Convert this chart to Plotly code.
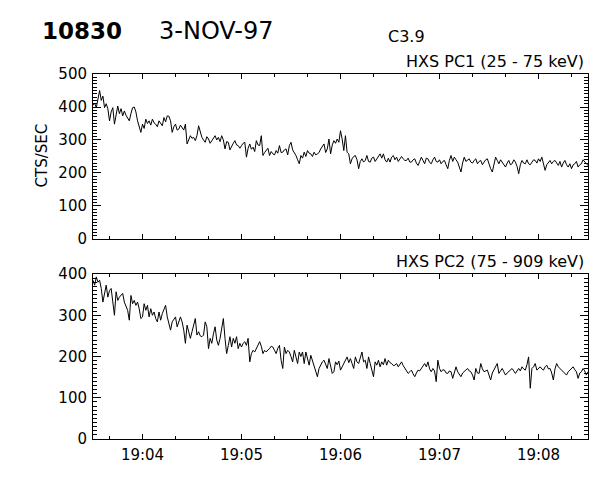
import pandas as pd
import plotly.graph_objects as go

# HXS count rates, 1 s samples starting 19:03:30 UT on 3-Nov-97
start_time = "1997-11-03 19:03:30"
cadence_s = 1

pc1_counts = [
    405, 412, 398, 430, 450, 420, 433, 398, 410, 395,
    358, 385, 398, 348, 375, 403, 380, 395, 373, 388,
    375, 368, 358, 380, 398, 400, 385, 358, 340, 323,
    348, 335, 363, 350, 358, 345, 363, 352, 348, 340,
    358, 350, 343, 368, 355, 373, 372, 358, 323, 340,
    348, 330, 333, 345, 338, 330, 348, 288, 300, 313,
    305, 308, 298, 313, 343, 325, 308, 300, 293, 310,
    303, 290, 298, 305, 313, 300, 308, 295, 313, 300,
    273, 295, 293, 270, 283, 290, 298, 285, 283, 275,
    283, 290, 293, 248, 275, 288, 272, 278, 265, 298,
    285, 283, 313, 253, 262, 268, 275, 253, 265, 258,
    255, 268, 260, 283, 262, 263, 270, 273, 255, 283,
    293, 270, 263, 253, 240, 228, 253, 245, 263, 250,
    268, 260, 258, 250, 263, 255, 258, 262, 273, 280,
    288, 262, 273, 303, 258, 285, 298, 290, 303, 293,
    328, 303, 268, 313, 263, 258, 228, 243, 250, 253,
    240, 213, 235, 243, 233, 238, 253, 235, 233, 245,
    248, 235, 243, 250, 258, 245, 258, 240, 233, 245,
    233, 248, 253, 240, 248, 235, 243, 250, 243, 238,
    238, 245, 233, 233, 240, 243, 230, 223, 235, 248,
    238, 228, 245, 243, 232, 228, 240, 248, 235, 233,
    240, 228, 235, 238, 225, 213, 238, 253, 235, 248,
    240, 233, 218, 203, 230, 248, 235, 238, 243, 233,
    230, 238, 243, 228, 235, 238, 225, 233, 240, 243,
    225, 213, 203, 230, 248, 238, 228, 240, 233, 225,
    218, 230, 238, 225, 228, 240, 233, 220, 198, 225,
    238, 230, 228, 240, 228, 225, 233, 240, 238, 230,
    243, 235, 248, 228, 208, 225, 233, 238, 228, 235,
    238, 230, 223, 235, 218, 230, 238, 225, 218, 228,
    213, 225, 228, 235, 218, 225, 228, 240, 233, 228,
    223,
]

pc2_counts = [
    385, 373, 393, 380, 385, 365, 332, 357, 373, 344,
    360, 365, 332, 300, 357, 336, 344, 350, 353, 332,
    324, 312, 288, 348, 328, 336, 324, 332, 316, 292,
    296, 328, 312, 324, 296, 316, 300, 308, 292, 284,
    308, 288, 304, 316, 324, 296, 280, 264, 284, 290,
    296, 272, 285, 296, 284, 264, 232, 276, 260, 244,
    260, 275, 292, 252, 260, 250, 248, 252, 284, 272,
    219, 244, 232, 255, 272, 240, 227, 244, 265, 292,
    244, 207, 227, 248, 223, 244, 232, 248, 219, 232,
    223, 232, 236, 227, 244, 187, 207, 215, 211, 220,
    227, 236, 225, 207, 215, 211, 216, 219, 225, 223,
    215, 207, 220, 227, 191, 171, 223, 207, 215, 211,
    200, 187, 215, 200, 183, 211, 200, 211, 183, 211,
    195, 179, 203, 190, 175, 163, 151, 171, 180, 187,
    191, 180, 171, 195, 175, 159, 163, 187, 180, 189,
    167, 175, 179, 190, 199, 185, 195, 183, 171, 199,
    187, 183, 195, 211, 187, 191, 171, 199, 183, 170,
    151, 187, 179, 191, 175, 187, 180, 195, 179, 191,
    185, 183, 178, 179, 183, 175, 180, 187, 178, 171,
    165, 159, 163, 167, 158, 151, 160, 167, 165, 171,
    175, 183, 175, 187, 170, 163, 171, 165, 139, 191,
    171, 163, 168, 167, 160, 159, 165, 163, 147, 160,
    175, 163, 158, 151, 160, 163, 168, 171, 165, 163,
    155, 143, 171, 160, 159, 183, 170, 163, 165, 167,
    155, 143, 160, 167, 175, 183, 159, 165, 171, 163,
    155, 160, 163, 168, 171, 165, 159, 165, 171, 165,
    175, 170, 167, 180, 199, 123, 171, 175, 183, 167,
    171, 175, 170, 167, 175, 179, 170, 171, 160, 143,
    170, 183, 175, 171, 167, 163, 160, 155, 163, 167,
    170, 175, 168, 163, 147, 160, 163, 171, 165, 155,
    163,
]

times = pd.date_range(start_time, periods=len(pc1_counts), freq=f"{cadence_s}s")

FONT = "DejaVu Sans"

fig = go.Figure()
fig.add_trace(go.Scatter(x=times, y=pc1_counts, mode="lines",
                         line=dict(color="black", width=1),
                         xaxis="x", yaxis="y", showlegend=False))
fig.add_trace(go.Scatter(x=times, y=pc2_counts, mode="lines",
                         line=dict(color="black", width=1),
                         xaxis="x2", yaxis="y2", showlegend=False))

x_common = dict(
    type="date",
    range=["1997-11-03 19:03:30", "1997-11-03 19:08:30"],
    tick0="1997-11-03 19:04:00", dtick=60000, tickformat="%H:%M",
    ticks="inside", ticklen=5, tickcolor="black",
    minor=dict(ticks="inside", ticklen=3, dtick=20000, tickcolor="black"),
    showline=True, linecolor="black", linewidth=1, mirror="allticks",
    showgrid=False, zeroline=False, ticklabelstandoff=2,
    tickfont=dict(family=FONT, size=15, color="black"),
)
y_common = dict(
    ticks="inside", ticklen=8, tickcolor="black",
    minor=dict(ticks="inside", ticklen=4, dtick=10, tickcolor="black"),
    showline=True, linecolor="black", linewidth=1, mirror="allticks",
    showgrid=False, zeroline=False, ticklabelstandoff=2,
    tickfont=dict(family=FONT, size=15, color="black"),
)

# page body adds an 8 px offset, so the figure is 8 px smaller than the window
fig.update_layout(
    width=592, height=472,
    margin=dict(l=85, r=12, t=66, b=41),
    paper_bgcolor="white", plot_bgcolor="white",
    font=dict(family=FONT, color="black"),
    xaxis=dict(x_common, domain=[0, 1], anchor="y", showticklabels=False),
    yaxis=dict(y_common, domain=[0.548, 1], anchor="x", range=[0, 500], dtick=100),
    xaxis2=dict(x_common, domain=[0, 1], anchor="y2"),
    yaxis2=dict(y_common, domain=[0, 0.452], anchor="x2", range=[0, 400], dtick=100),
    annotations=[
        dict(text="10830", x=-0.107, y=1.118, xref="paper", yref="paper",
             xanchor="left", yanchor="middle", showarrow=False,
             font=dict(family=FONT, size=23, color="black", weight="bold")),
        dict(text="3-NOV-97", x=0.129, y=1.118, xref="paper", yref="paper",
             xanchor="left", yanchor="middle", showarrow=False,
             font=dict(family=FONT, size=24, color="black")),
        dict(text="C3.9", x=0.592, y=1.104, xref="paper", yref="paper",
             xanchor="left", yanchor="middle", showarrow=False,
             font=dict(family=FONT, size=16, color="black")),
        dict(text="HXS PC1 (25 - 75 keV)", x=0.996, y=1.003, xref="paper", yref="paper",
             xanchor="right", yanchor="bottom", showarrow=False,
             font=dict(family=FONT, size=16, color="black")),
        dict(text="HXS PC2 (75 - 909 keV)", x=0.996, y=0.4555, xref="paper", yref="paper",
             xanchor="right", yanchor="bottom", showarrow=False,
             font=dict(family=FONT, size=16, color="black")),
        dict(text="CTS/SEC", x=-0.103, y=0.777, xref="paper", yref="paper",
             xanchor="center", yanchor="middle", textangle=-90, showarrow=False,
             font=dict(family=FONT, size=15, color="black")),
    ],
)

fig.write_html("out.html")
